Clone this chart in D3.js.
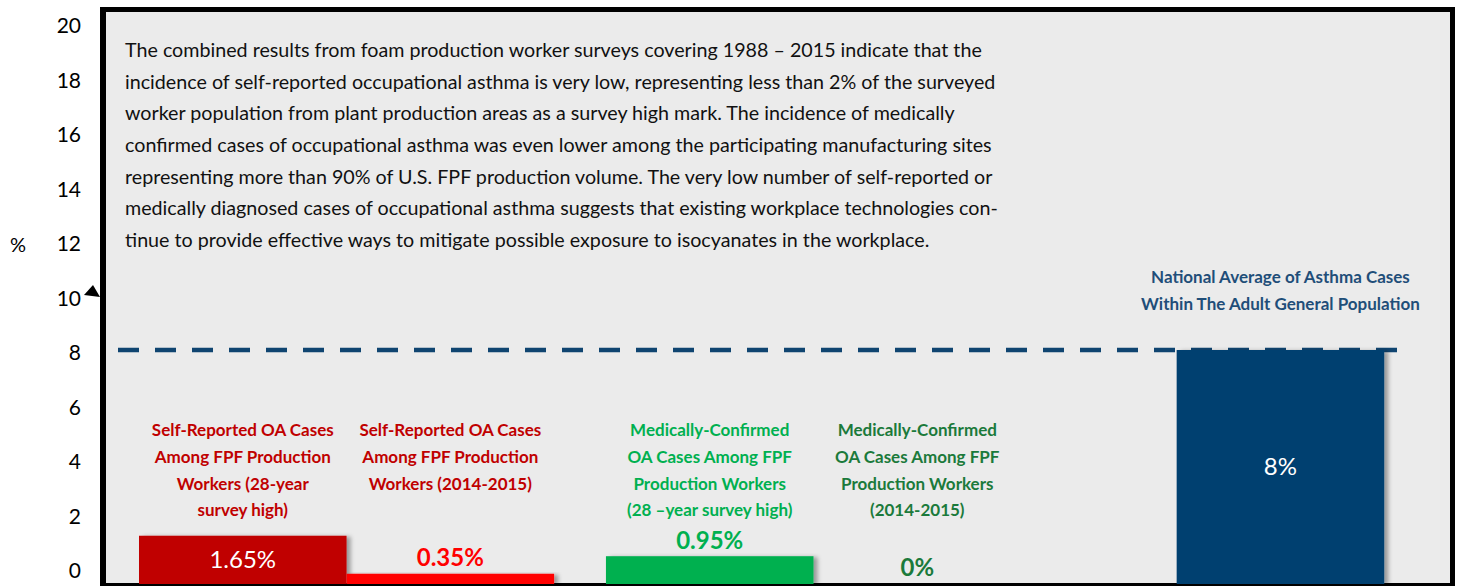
<!DOCTYPE html>
<html>
<head>
<meta charset="utf-8">
<script src="https://cdn.jsdelivr.net/npm/d3@7"></script>
<style>
  body { margin: 0; background: #fff; }
  text { font-family: Lato, "Open Sans", sans-serif; }
</style>
</head>
<body>
<script>
(function() {
  var width = 1460, height = 586;

  // data
  var yTicks = [0, 2, 4, 6, 8, 10, 12, 14, 16, 18, 20];
  var categories = ["sr28", "sr1415", "mc28", "mc1415", "nat"];
  var groups = ["self-reported", "medically-confirmed", "national"];
  var groupOf = ["self-reported", "self-reported", "medically-confirmed", "medically-confirmed", "national"];
  var values = [1.65, 0.35, 0.95, 0, 8];
  var valueLabels = ["1.65%", "0.35%", "0.95%", "0%", "8%"];
  var labelLines = [
    ["Self-Reported OA Cases", "Among FPF  Production", "Workers (28-year", "survey high)"],
    ["Self-Reported OA Cases", "Among FPF  Production", "Workers (2014-2015)"],
    ["Medically-Confirmed", "OA Cases Among FPF", "Production Workers", "(28 \u2013year survey high)"],
    ["Medically-Confirmed", "OA Cases Among FPF", "Production Workers", "(2014-2015)"],
    ["National Average of Asthma Cases", "Within The Adult General Population"]
  ];
  var nationalAverage = 8;
  var bodyLines = [
    "The combined results from foam production worker surveys covering 1988 \u2013 2015 indicate that the",
    "incidence of self-reported occupational asthma is very low, representing less than 2% of the surveyed",
    "worker population from plant production areas as a survey high mark. The incidence of medically",
    "confirmed cases of occupational asthma was even lower among the participating manufacturing sites",
    "representing more than 90% of U.S. FPF production volume. The very low number of self-reported or",
    "medically diagnosed cases of occupational asthma suggests that existing workplace technologies con-",
    "tinue to provide effective ways to mitigate possible exposure to isocyanates in the workplace."
  ];

  var barColours = ["#c00000", "#ff0000", "#00b050", "#1b7a3b", "#003f70"];
  var labelColours = ["#c00000", "#c00000", "#00b050", "#1b7a3b", "#1f4e79"];

  var svg = d3.select("body")
    .append("svg")
    .attr("width", width)
    .attr("height", height);

  var defs = svg.append("defs");
  defs.append("filter")
    .attr("id", "shadow")
    .attr("x", "-10%").attr("y", "-10%")
    .attr("width", "130%").attr("height", "130%")
    .append("feDropShadow")
    .attr("dx", 4).attr("dy", 1)
    .attr("stdDeviation", 2)
    .attr("flood-color", "#000")
    .attr("flood-opacity", 0.35);

  // frame
  svg.append("rect")
    .attr("x", 100).attr("y", 7)
    .attr("width", 1355).attr("height", 590)
    .attr("fill", "#000");
  svg.append("rect")
    .attr("x", 106).attr("y", 12)
    .attr("width", 1344).attr("height", 571)
    .attr("fill", "#ebebeb");

  // scales
  var yBar = d3.scaleLinear().domain([0, 20]).range([584, -1]);
  var yLabel = d3.scaleLinear().domain([0, 20]).range([571, 26]);

  var xGroup = d3.scaleBand()
    .domain(groups)
    .range([139, 1488])
    .paddingInner(0.111);

  var inner = {};
  groups.forEach(function(g) {
    var members = categories.filter(function(c, i) { return groupOf[i] == g });
    inner[g] = d3.scaleBand()
      .domain(members)
      .range([0, xGroup.bandwidth()])
      .paddingOuter(members.length == 1 ? 0.5 : 0);
  });

  function barX(i) { return xGroup(groupOf[i]) + inner[groupOf[i]](categories[i]) }
  function barW(i) { return inner[groupOf[i]].bandwidth() }

  // y axis labels (no line)
  var yAxis = d3.axisLeft(yLabel).tickValues(yTicks).tickSize(0).tickPadding(0);
  svg.append("g")
    .attr("class", "axis y-axis")
    .attr("transform", "translate(81,0)")
    .call(yAxis)
    .call(function(g) { g.select(".domain").remove() })
    .selectAll("text")
    .attr("fill", "#000")
    .attr("font-size", "21px")
    .attr("font-family", "Lato, sans-serif");

  svg.append("text")
    .attr("x", 18).attr("y", 245)
    .attr("dy", "0.35em")
    .attr("text-anchor", "middle")
    .attr("font-size", "20px")
    .text("%");

  svg.append("path")
    .attr("d", "M84,295L93,285L100,297Z")
    .attr("fill", "#000");

  // description text
  svg.append("g")
    .selectAll("text")
    .data(bodyLines)
    .enter().append("text")
    .attr("x", 125)
    .attr("y", function(d, i) { return 50 + i * 31.67 })
    .attr("dy", "0.35em")
    .attr("font-size", "19.7px")
    .attr("fill", "#111")
    .text(function(d) { return d });

  // national average dashed line
  svg.append("line")
    .attr("x1", 118).attr("x2", 1408)
    .attr("y1", yBar(nationalAverage)).attr("y2", yBar(nationalAverage))
    .attr("stroke", "#0f4470")
    .attr("stroke-width", 4.5)
    .attr("stroke-dasharray", "21,16");

  // bars
  svg.selectAll(".bar")
    .data(values)
    .enter().append("rect")
    .attr("class", "bar")
    .attr("x", function(d, i) { return barX(i) })
    .attr("width", function(d, i) { return barW(i) })
    .attr("y", function(d) { return yBar(d) })
    .attr("height", function(d) { return yBar(0) - yBar(d) })
    .attr("fill", function(d, i) { return barColours[i] })
    .attr("filter", function(d) { return d > 0 ? "url(#shadow)" : null });

  // value labels
  svg.selectAll(".value-label")
    .data(values)
    .enter().append("text")
    .attr("class", "value-label")
    .attr("x", function(d, i) { return barX(i) + barW(i) / 2 })
    .attr("y", function(d) {
      if (d >= 1.5) {
        return (yBar(d) + yBar(0)) / 2
      }
      return yBar(d) - 16
    })
    .attr("dy", "0.35em")
    .attr("text-anchor", "middle")
    .attr("font-size", "24px")
    .attr("font-weight", function(d) { return d >= 1.5 ? "normal" : "bold" })
    .attr("fill", function(d, i) { return d >= 1.5 ? "#fff" : barColours[i] })
    .text(function(d, i) { return valueLabels[i] });

  // category labels
  labelLines.forEach(function(lines, i) {
    var lineH = 26.8;
    var top;
    if (values[i] > 5) {
      top = yBar(values[i]) - 46 - (lines.length - 1) * lineH;
    } else {
      top = 430;
    }
    svg.append("g")
      .attr("class", "cat-label")
      .selectAll("text")
      .data(lines)
      .enter().append("text")
      .attr("x", barX(i) + barW(i) / 2)
      .attr("y", function(d, j) { return top + j * lineH })
      .attr("dy", "0.35em")
      .attr("text-anchor", "middle")
      .attr("font-size", "17px")
      .attr("font-weight", "bold")
      .attr("fill", labelColours[i])
      .text(function(d) { return d });
  });
})();
</script>
</body>
</html>
